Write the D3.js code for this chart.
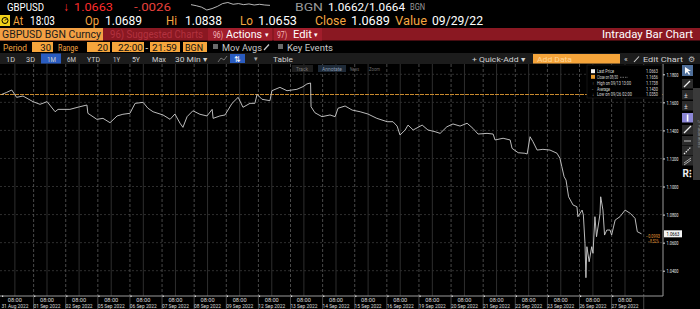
<!DOCTYPE html>
<html><head><meta charset="utf-8">
<script src="https://cdn.jsdelivr.net/npm/d3@7"></script>
<style>
html,body{margin:0;padding:0;background:#000;overflow:hidden;}
svg{display:block;}
text{font-family:"Liberation Sans Narrow","Roboto","Liberation Sans",Arial,sans-serif;}
</style></head><body>
<svg id="c" width="700" height="309"></svg>
<script>
// ---------- DATA ----------
const dayLabels = ["31 Aug 2022","01 Sep 2022","02 Sep 2022","05 Sep 2022","06 Sep 2022","07 Sep 2022","08 Sep 2022","09 Sep 2022","12 Sep 2022","13 Sep 2022","14 Sep 2022","15 Sep 2022","16 Sep 2022","19 Sep 2022","20 Sep 2022","21 Sep 2022","22 Sep 2022","23 Sep 2022","26 Sep 2022","27 Sep 2022"];
const yTicks = [1.04,1.06,1.08,1.10,1.12,1.14,1.16,1.18];
// trading-day index (day starts 22:00 previous evening) and price
const tDay = [0.00,0.15,0.32,0.47,0.67,0.98,1.20,1.42,1.67,1.76,2.13,2.44,2.66,2.69,2.97,3.16,3.38,3.60,3.78,4.00,4.16,4.41,4.56,4.72,5.03,5.25,5.40,5.56,5.65,5.78,5.96,6.18,6.40,6.56,6.59,6.80,6.96,7.18,7.37,7.52,7.74,7.89,7.96,8.11,8.36,8.42,8.67,8.89,9.20,9.39,9.51,9.625,9.64,9.76,9.98,10.23,10.39,10.48,10.70,10.92,11.17,11.41,11.69,12.01,12.19,12.32,12.41,12.57,12.66,12.82,13.10,13.28,13.50,13.66,13.87,14.06,14.28,14.50,14.68,14.84,15.12,15.31,15.37,15.62,15.84,15.90,16.09,16.30,16.37,16.46,16.55,16.68,16.86,17.08,17.30,17.39,17.45,17.52,17.58,17.66,17.80,17.92,17.95,18.08,18.12,18.17,18.20,18.23,18.30,18.38,18.42,18.48,18.53,18.61,18.64,18.66,18.73,18.78,18.85,18.95,19.00,19.11,19.26,19.42,19.58,19.73,19.80,19.93];
const price = [1.1656,1.1670,1.1688,1.1636,1.1645,1.1605,1.1586,1.1605,1.1533,1.1550,1.1550,1.1569,1.1581,1.1522,1.1479,1.1486,1.1455,1.1503,1.1515,1.1522,1.1593,1.1600,1.1558,1.1533,1.1510,1.1479,1.1517,1.1451,1.1422,1.1498,1.1540,1.1515,1.1503,1.1550,1.1486,1.1503,1.1510,1.1593,1.1636,1.1565,1.1593,1.1593,1.1657,1.1622,1.1612,1.1683,1.1707,1.1683,1.1693,1.1712,1.1731,1.1738,1.1569,1.1526,1.1498,1.1510,1.1498,1.1558,1.1574,1.1545,1.1533,1.1517,1.1486,1.1462,1.1462,1.1431,1.1367,1.1403,1.1438,1.1403,1.1438,1.1403,1.1391,1.1379,1.1426,1.1446,1.1431,1.1451,1.1415,1.1374,1.1379,1.1374,1.1332,1.1344,1.1332,1.1272,1.1241,1.1237,1.1232,1.1355,1.1320,1.1260,1.1265,1.1260,1.1237,1.1201,1.1141,1.1070,1.1046,1.0927,1.0868,1.0856,1.0785,1.0832,1.0797,1.0595,1.0350,1.0571,1.0464,1.0571,1.0524,1.0785,1.0642,1.0761,1.0809,1.0927,1.0832,1.0654,1.0690,1.0690,1.0654,1.0761,1.0785,1.0832,1.0809,1.0773,1.0678,1.0663];
const sparkVals = [1.0682,1.0676,1.0668,1.0652,1.0660,1.0672,1.0688,1.0694,1.0684,1.0688,1.0682,1.0686,1.0680,1.0684,1.0680,1.0678];
const prevClose = 1.1656;
const lastPrice = 1.0663;
const legendLabels = ["Last Price","Close on 08/30","High on 09/13 13:00","Average","Low on 09/26 02:00"];
const legendValues = ["1.0663","1.1656","1.1738","1.1430","1.0350"];

// ---------- HELPERS ----------
const svg = d3.select("#c");
function T(x, y, s, o) {
  o = o || {};
  const t = svg.append("text").attr("x", x).attr("y", y).text(s)
    .attr("font-size", o.size || 10).attr("fill", o.fill || "#fff");
  if (o.w) t.attr("textLength", o.w).attr("lengthAdjust", "spacingAndGlyphs");
  if (o.anchor) t.attr("text-anchor", o.anchor);
  if (o.weight) t.attr("font-weight", o.weight);
  return t;
}
function R(x, y, w, h, fill, o) {
  o = o || {};
  const r = svg.append("rect").attr("x", x).attr("y", y).attr("width", w).attr("height", h).attr("fill", fill);
  if (o.stroke) r.attr("stroke", o.stroke).attr("stroke-width", o.sw || 1);
  return r;
}
const ORANGE = "#f4a640", RED = "#ff2d2d", GRAY = "#c8c8c8";

// background
R(0, 0, 700, 309, "#000");

// ---------- ROW 1 ----------
T(7, 10.5, "GBPUSD", {size: 10.5, w: 37});
T(63, 11, "↓", {size: 12, fill: RED});
T(74, 11, "1.0663", {size: 11.5, w: 39, fill: RED});
T(134, 11, "-.0026", {size: 11, w: 37, fill: "#e8403c"});
{
  const sx = d3.scaleLinear().domain([0, sparkVals.length - 1]).range([191, 270]);
  const sy = d3.scaleLinear().domain(d3.extent(sparkVals)).range([10, 2.5]);
  svg.append("path").attr("d", d3.line().x((d, i) => sx(i)).y(d => sy(d))(sparkVals))
    .attr("fill", "none").attr("stroke", "#e6e6e6").attr("stroke-width", 0.8);
}
T(295, 10.5, "BGN", {size: 10.5, w: 28, fill: "#9a9a9a"});
T(328, 10.5, "1.0662/1.0664", {size: 11, w: 77});
T(410, 10, "BGN", {size: 8.5, w: 15, fill: "#9a9a9a"});

// ---------- ROW 2 ----------
R(0, 15, 10, 11, "#f2d21a");
svg.append("circle").attr("cx", 5).attr("cy", 20.5).attr("r", 3).attr("fill", "none").attr("stroke", "#000").attr("stroke-width", 1);
svg.append("line").attr("x1", 5).attr("y1", 20.5).attr("x2", 6.5).attr("y2", 19).attr("stroke", "#000").attr("stroke-width", 1);
const row2 = [
  [13, "At", 10, ORANGE], [30, "18:03", 25, "#fff"], [85, "Op", 14, ORANGE], [105, "1.0689", 37, "#fff"],
  [166, "Hi", 11, ORANGE], [185, "1.0838", 37, "#fff"], [240, "Lo", 13, ORANGE], [258, "1.0653", 39, "#fff"],
  [315, "Close", 31, ORANGE], [351, "1.0689", 39, "#fff"], [395, "Value", 32, ORANGE], [432, "09/29/22", 51, "#fff"]
];
row2.forEach(d => T(d[0], 25, d[1], {size: 12, w: d[2], fill: d[3]}));

// ---------- ROW 3 (red bar) ----------
R(0, 28, 700, 12.5, "#8a1822");
R(0, 28, 103, 12.5, "#f3a043");
T(2, 38, "GBPUSD BGN Curncy", {size: 10.5, w: 99, fill: "#1a1a1a"});
T(110, 38, "96) Suggested Charts", {size: 10, w: 93, fill: "#b3323f"});
R(208, 28, 64, 12.5, "#a11d2b");
T(213, 37.5, "96)", {size: 8.5, w: 10, fill: "#f3b9b9"});
T(226, 38, "Actions", {size: 10, w: 36});
T(265, 37, "▾", {size: 7});
R(274, 28, 48, 12.5, "#a11d2b");
T(277, 37.5, "97)", {size: 8.5, w: 10, fill: "#f3b9b9"});
T(293, 38, "Edit", {size: 10, w: 19});
T(314, 37, "▾", {size: 7});
T(602, 38, "Intraday Bar Chart", {size: 10.5, w: 91});

// ---------- ROW 4 ----------
T(3, 50.5, "Period", {size: 9.5, w: 24, fill: ORANGE});
R(32, 42, 21, 10, "#f6a53c"); T(51, 50.5, "30", {size: 9.5, anchor: "end", fill: "#111"});
T(58, 50.5, "Range", {size: 9.5, w: 20, fill: ORANGE});
R(87, 42, 23, 10, "#f6a53c"); T(108, 50.5, "20", {size: 9.5, anchor: "end", fill: "#111"});
R(112, 42, 32, 10, "#f6a53c"); T(118, 50.5, "22:00", {size: 9.5, w: 25, fill: "#111"});
T(145.5, 50.5, "-", {size: 9.5});
R(150, 42, 30, 10, "#f6a53c"); T(152, 50.5, "21:59", {size: 9.5, w: 25, fill: "#111"});
R(183, 42, 24, 10, "#f6a53c"); T(185, 50.5, "BGN", {size: 9.5, w: 18, fill: "#111"});
R(213, 44, 5, 5, "#6a6a6a");
T(222, 50.5, "Mov Avgs", {size: 9.5, w: 40, fill: GRAY});
svg.append("line").attr("x1", 264).attr("y1", 50).attr("x2", 269).attr("y2", 44.5).attr("stroke", GRAY).attr("stroke-width", 1.2);
R(278, 44, 5, 5, "#6a6a6a");
T(287, 50.5, "Key Events", {size: 9.5, w: 46, fill: GRAY});

// ---------- ROW 5 (toolbar) ----------
R(0, 53, 700, 11, "#1c1c1c");
R(41, 53.5, 20, 10, "#2a5cc0");
[[6, "1D", 9], [26, "3D", 9], [47, "1M", 9], [67, "6M", 9], [87, "YTD", 13], [113, "1Y", 7], [132, "5Y", 8], [152, "Max", 14], [175, "30 Min ▾", 32]]
  .forEach(d => T(d[0], 61.5, d[1], {size: 8, w: d[2], fill: "#d0d0d0"}));
svg.append("path").attr("d", "M218,62 L221,58 L224,60 L227,56").attr("fill", "none").attr("stroke", "#8a8a8a").attr("stroke-width", 0.8);
R(230, 54, 15, 9, "#2a5cc0");
T(234, 61.5, "⇅", {size: 8, fill: "#fff"});
T(254, 61, "▾", {size: 7, fill: "#aaa"});
T(273, 61.5, "Table", {size: 8, w: 20, fill: "#d0d0d0"});
T(472, 61.5, "+ Quick-Add ▾", {size: 8, w: 53, fill: "#d0d0d0"});
R(533, 54, 87, 9.5, "#f5a43a");
T(537, 61.5, "Add Data", {size: 8, w: 35, fill: "#ffd597"});
T(624, 61.5, "«", {size: 8, fill: "#d0d0d0"});
svg.append("line").attr("x1", 634).attr("y1", 62).attr("x2", 639).attr("y2", 56.5).attr("stroke", "#d0d0d0").attr("stroke-width", 1.1);
T(643, 61.5, "Edit Chart", {size: 8, w: 40, fill: "#d0d0d0"});
T(688, 62, "⚙", {size: 8, fill: "#bbb"});

// ---------- CHART ----------
const plotTop = 64, plotBottom = 296, plotLeft = 0, plotRight = 663;
const x = d3.scaleLinear().domain([0, 20.6]).range([1.5, plotRight]);
const y = d3.scaleLinear().domain([1.04, 1.18]).range([270.7, 74.3]);

svg.append("clipPath").attr("id", "clip").append("rect")
  .attr("x", plotLeft).attr("y", plotTop).attr("width", plotRight - plotLeft).attr("height", plotBottom - plotTop);
const g = svg.append("g").attr("clip-path", "url(#clip)");

// horizontal grid
g.selectAll(".hg").data(yTicks).join("line")
  .attr("x1", plotLeft).attr("x2", plotRight).attr("y1", d => y(d)).attr("y2", d => y(d))
  .attr("stroke", "#3a3a3a").attr("stroke-width", 0.8).attr("stroke-dasharray", "2,2");
// vertical grid: 08:00 (solid dim) and day boundaries (dashed)
g.selectAll(".vg1").data(dayLabels).join("line")
  .attr("x1", (d, i) => x(i + 10 / 24)).attr("x2", (d, i) => x(i + 10 / 24)).attr("y1", plotTop).attr("y2", plotBottom)
  .attr("stroke", "#2e2e2e").attr("stroke-width", 1);
g.selectAll(".vg2").data(d3.range(1, dayLabels.length + 1)).join("line")
  .attr("x1", d => x(d)).attr("x2", d => x(d)).attr("y1", plotTop).attr("y2", plotBottom)
  .attr("stroke", "#5a5a5a").attr("stroke-width", 0.8).attr("stroke-dasharray", "3,2");

// previous close line
g.append("line").attr("x1", plotLeft).attr("x2", plotRight).attr("y1", y(prevClose)).attr("y2", y(prevClose))
  .attr("stroke", "#c98a2e").attr("stroke-width", 1).attr("stroke-dasharray", "4,1");

// price line
const pts = tDay.map((t, i) => [t, price[i]]);
g.append("path").attr("d", d3.line().x(d => x(d[0])).y(d => y(d[1]))(pts))
  .attr("fill", "none").attr("stroke", "#cfcfcf").attr("stroke-width", 0.9).attr("stroke-linejoin", "miter");

// axes frame
svg.append("line").attr("x1", plotRight).attr("x2", plotRight).attr("y1", plotTop).attr("y2", plotBottom).attr("stroke", "#9a9a9a").attr("stroke-width", 1);
svg.append("line").attr("x1", 0).attr("x2", plotRight).attr("y1", plotBottom).attr("y2", plotBottom).attr("stroke", "#9a9a9a").attr("stroke-width", 1);

// right y axis
const yAxis = d3.axisRight(y).tickValues(yTicks).tickSize(2).tickFormat(d3.format(".4f"));
const ya = svg.append("g").attr("transform", `translate(${plotRight},0)`).call(yAxis);
ya.select(".domain").remove();
ya.selectAll(".tick line").attr("stroke", "#ddd");
ya.selectAll(".tick text").attr("fill", "#e8e8e8").attr("font-size", 5.5).attr("x", 3.5)
  .attr("font-family", "'Liberation Sans Narrow',Roboto,'Liberation Sans',sans-serif")
  .attr("textLength", 12).attr("lengthAdjust", "spacingAndGlyphs");

// last price tag & change
R(664, y(lastPrice) - 3.5, 18, 7, "#f4f4f4");
T(673, y(lastPrice) + 2, "1.0663", {size: 5.5, w: 13, anchor: "middle", fill: "#000"});
T(660, y(lastPrice) + 4.2, d3.format(".4f")(lastPrice - prevClose), {size: 5, w: 14, anchor: "end", fill: "#e39a35"});
T(659, y(lastPrice) + 9.5, d3.format(".2%")((lastPrice - prevClose) / prevClose), {size: 5, w: 11, anchor: "end", fill: "#e39a35"});

// bottom x axis labels
const xa = svg.append("g");
xa.selectAll(".sep").data(d3.range(1, dayLabels.length + 1)).join("line")
  .attr("x1", d => x(d)).attr("x2", d => x(d)).attr("y1", plotBottom).attr("y2", 309)
  .attr("stroke", "#5a5a5a").attr("stroke-width", 0.8);
xa.selectAll(".tk").data(dayLabels).join("rect")
  .attr("x", (d, i) => x(i) + 0.5).attr("y", plotBottom - 0.5).attr("width", 1.2).attr("height", 1.5).attr("fill", "#ddd");
xa.selectAll(".hh").data(dayLabels).join("text")
  .attr("x", (d, i) => x(i + 10 / 24)).attr("y", 301.7).attr("text-anchor", "middle")
  .attr("font-size", 5.5).attr("fill", "#dcdcdc").text("08:00")
  .attr("textLength", 14).attr("lengthAdjust", "spacingAndGlyphs");
xa.selectAll(".dd").data(dayLabels).join("text")
  .attr("x", (d, i) => x(i + 10 / 24)).attr("y", 308).attr("text-anchor", "middle")
  .attr("font-size", 5.5).attr("fill", "#dcdcdc").text(d => d)
  .attr("textLength", 27).attr("lengthAdjust", "spacingAndGlyphs");

// chart overlay buttons
R(292, 65, 21, 7, "#1d1d1d");
T(296, 70.5, "Track", {size: 4.5, w: 12, fill: "#777"});
R(318, 65, 28, 7, "#1e2a38");
T(322, 70.5, "Annotate", {size: 4.5, w: 20, fill: "#8a9ab0"});
T(350, 70.5, "News", {size: 4.5, w: 9, fill: "#6a6a6a"});
T(369, 70.5, "Zoom", {size: 4.5, w: 11, fill: "#6a6a6a"});

// legend
R(587, 65, 75, 33, "#000", {stroke: "#1e1e1e", sw: 0.6});
const ly = [71.7, 77.3, 83, 89, 94.3];
R(591, ly[0] - 2.5, 4, 4, "#f2f2f2");
R(591, ly[1] - 2.5, 4, 4, "#e59a2c");
T(592, ly[2] + 1.5, "↑", {size: 4.5, fill: "#aaa"});
T(592, ly[3] + 1.5, "-", {size: 4.5, fill: "#aaa"});
T(592, ly[4] + 1.5, "↓", {size: 4.5, fill: "#aaa"});
const lw = [17, 21, 34, 13, 35];
legendLabels.forEach((l, i) => T(597, ly[i] + 1.7, l, {size: 5, w: lw[i], fill: "#d8d8d8"}));
svg.append("line").attr("x1", 620).attr("x2", 628).attr("y1", ly[1]).attr("y2", ly[1]).attr("stroke", "#bbb").attr("stroke-width", 0.6).attr("stroke-dasharray", "1.5,1");
legendValues.forEach((v, i) => T(658, ly[i] + 1.7, v, {size: 5, w: 12, anchor: "end", fill: "#d8d8d8"}));

// right toolbar
R(693, 88, 7, 92, "#3a3a3a");
svg.append("text").attr("transform", "translate(697.5,134) rotate(90)").attr("text-anchor", "middle")
  .attr("font-size", 4.5).attr("fill", "#8a8a8a").text("// Parameters");
R(682, 65, 11, 11, "#4f6f9a");
svg.append("path").attr("d", "M685,67 L685,74 L687,72 L689,75 L690,74 L688,71 L691,71 Z").attr("fill", "#fff");
const icons = [79, 90, 101, 113, 125, 136, 146, 156];
icons.forEach((iy, i) => R(682, iy, 11, 9.5, i === 3 ? "#8b86d6" : "#2b2b2b"));
svg.append("line").attr("x1", 684).attr("y1", 87).attr("x2", 690).attr("y2", 81).attr("stroke", "#eee").attr("stroke-width", 1.2);
T(684, 98, "±", {size: 7, fill: "#ddd"});
T(684, 109, "±", {size: 7, fill: "#ddd"});
R(686.8, 114.5, 1.6, 7, "#fff");
svg.append("line").attr("x1", 684).attr("y1", 133).attr("x2", 691).attr("y2", 126).attr("stroke", "#eee").attr("stroke-width", 1.2);
svg.append("line").attr("x1", 684).attr("y1", 141).attr("x2", 691).attr("y2", 141).attr("stroke", "#bbb").attr("stroke-width", 1);
svg.append("line").attr("x1", 684).attr("y1", 154).attr("x2", 691).attr("y2", 147).attr("stroke", "#eee").attr("stroke-width", 1.2).attr("stroke-dasharray", "1.5,1");
svg.append("path").attr("d", "M684,163 L691,158 M684,165 L691,160").attr("stroke", "#aaa").attr("stroke-width", 1);
T(682.5, 177, "R⁝", {size: 10, fill: "#f0f0f0", weight: "bold"});
</script>
</body></html>
